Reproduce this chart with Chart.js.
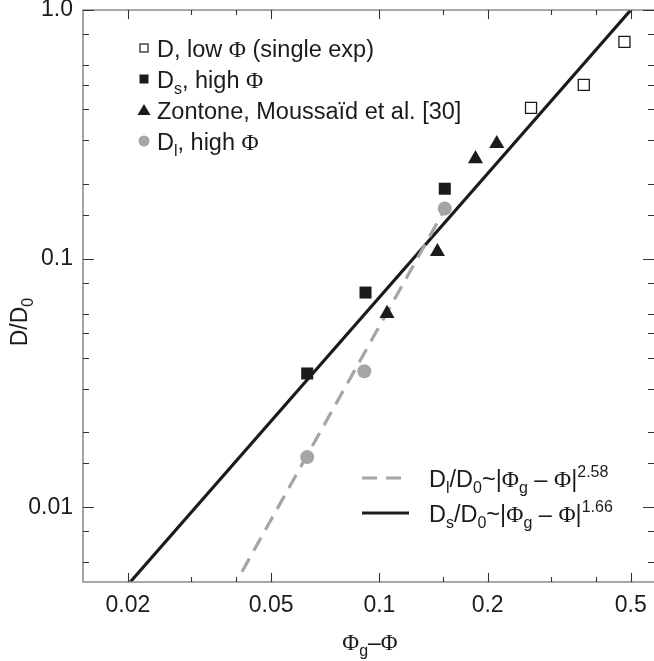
<!DOCTYPE html>
<html>
<head>
<meta charset="utf-8">
<script src="https://cdn.jsdelivr.net/npm/chart.js@4.4.1/dist/chart.umd.min.js"></script>
<style>
  html, body { margin: 0; padding: 0; background: #fff; }
</style>
</head>
<body>
<canvas id="chart" width="654" height="661"></canvas>
<script>
// data (x = Phi_g - Phi, y = D/D0)
const lowPhiX = [0.264, 0.370, 0.480];
const lowPhiY = [0.404, 0.500, 0.744];

const dsX = [0.063, 0.0915, 0.152];
const dsY = [0.0345, 0.073, 0.191];

const zontoneX = [0.105, 0.145, 0.185, 0.212];
const zontoneY = [0.0601, 0.1067, 0.252, 0.290];

const dlX = [0.063, 0.0908, 0.152];
const dlY = [0.0159, 0.0352, 0.159];

// fit lines, endpoints as seen in the plot
const fitSX = [0.0203, 0.50];
const fitSY = [0.005, 1.0];
const fitLX = [0.0415, 0.155];
const fitLY = [0.0055, 0.166];

// axis ticks
const xMajor = [0.02, 0.05, 0.1, 0.2, 0.5];
const xMajorLabels = ["0.02", "0.05", "0.1", "0.2", "0.5"];
const xMinor = [0.03, 0.04, 0.15, 0.3, 0.4];
const yMajor = [0.01, 0.1, 1];
const yMajorLabels = ["0.01", "0.1", "1.0"];
const yMinor = [0.006, 0.008, 0.015, 0.02, 0.03, 0.04, 0.05, 0.06, 0.08,
                0.15, 0.2, 0.3, 0.4, 0.5, 0.6, 0.8];

const BLACK = "#1b1b1b";
const GRAY = "#a5a5a5";
const SANS = "'Liberation Sans', Arial, sans-serif";
const SERIF = "'Liberation Serif', 'Times New Roman', serif";
const PHI = "\u03A6";

function pts(xs, ys) {
    return xs.map((x, i) => ({ x: x, y: ys[i] }));
}

function labelFor(value, majors, labels) {
    for (let i = 0; i < majors.length; i++) {
        if (Math.abs(value - majors[i]) / majors[i] < 1e-6) return labels[i];
    }
    return "";
}

// draw text made of pieces with sub/superscripts
function drawRich(ctx, x, y, segs, size, align) {
    const pieces = segs.map(s => {
        const fs = (s.sub || s.sup) ? Math.round(size * 0.68) : size;
        const font = fs + "px " + (s.serif ? SERIF : SANS);
        ctx.font = font;
        return { t: s.t, font: font, w: ctx.measureText(s.t).width,
                 dy: s.sub ? size * 0.28 : (s.sup ? -size * 0.42 : 0) };
    });
    let total = pieces.reduce((a, p) => a + p.w, 0);
    let cx = align === "center" ? x - total / 2 : x;
    ctx.textBaseline = "alphabetic";
    ctx.textAlign = "left";
    pieces.forEach(p => {
        ctx.font = p.font;
        ctx.fillText(p.t, cx, y + p.dy);
        cx += p.w;
    });
}

const legendTop = [
    { marker: "openSquare", segs: [{ t: "D, low " }, { t: PHI, serif: true }, { t: " (single exp)" }] },
    { marker: "square", segs: [{ t: "D" }, { t: "s", sub: true }, { t: ", high " }, { t: PHI, serif: true }] },
    { marker: "triangle", segs: [{ t: "Zontone, Moussa\u00efd et al. [30]" }] },
    { marker: "circle", segs: [{ t: "D" }, { t: "l", sub: true }, { t: ", high " }, { t: PHI, serif: true }] }
];

const legendFits = [
    { dash: [15, 9], color: GRAY,
      segs: [{ t: "D" }, { t: "l", sub: true }, { t: "/D" }, { t: "0", sub: true }, { t: "~|" },
             { t: PHI, serif: true }, { t: "g", sub: true }, { t: " \u2013 " }, { t: PHI, serif: true },
             { t: "|" }, { t: "2.58", sup: true }] },
    { dash: [], color: BLACK,
      segs: [{ t: "D" }, { t: "s", sub: true }, { t: "/D" }, { t: "0", sub: true }, { t: "~|" },
             { t: PHI, serif: true }, { t: "g", sub: true }, { t: " \u2013 " }, { t: PHI, serif: true },
             { t: "|" }, { t: "1.66", sup: true }] }
];

function drawMarker(ctx, kind, x, y) {
    ctx.save();
    if (kind === "openSquare") {
        ctx.strokeStyle = BLACK; ctx.lineWidth = 1.2; ctx.fillStyle = "#fff";
        ctx.fillRect(x - 4, y - 4, 8, 8);
        ctx.strokeRect(x - 4, y - 4, 8, 8);
    } else if (kind === "square") {
        ctx.fillStyle = BLACK;
        ctx.fillRect(x - 4.5, y - 4.5, 9, 9);
    } else if (kind === "triangle") {
        ctx.fillStyle = BLACK;
        ctx.beginPath();
        ctx.moveTo(x, y - 6); ctx.lineTo(x + 6.5, y + 5); ctx.lineTo(x - 6.5, y + 5);
        ctx.closePath(); ctx.fill();
    } else {
        ctx.fillStyle = GRAY;
        ctx.beginPath(); ctx.arc(x, y, 5.5, 0, Math.PI * 2); ctx.fill();
    }
    ctx.restore();
}

const decorPlugin = {
    id: "decor",
    afterDraw(chart) {
        const ctx = chart.ctx;
        const a = chart.chartArea;
        const xs = chart.scales.x, ys = chart.scales.y;
        ctx.save();

        // frame
        ctx.strokeStyle = "#8c8c8c";
        ctx.lineWidth = 1.6;
        ctx.beginPath();
        ctx.moveTo(a.right, a.top); ctx.lineTo(a.left, a.top);
        ctx.lineTo(a.left, a.bottom); ctx.lineTo(a.right, a.bottom);
        ctx.stroke();

        // inward ticks on all four sides
        ctx.strokeStyle = "#333";
        ctx.lineWidth = 1.1;
        ctx.beginPath();
        const xt = xMajor.map(v => [v, 9]).concat(xMinor.map(v => [v, 5]));
        xt.forEach(([v, len]) => {
            const px = Math.round(xs.getPixelForValue(v)) + 0.5;
            ctx.moveTo(px, a.bottom); ctx.lineTo(px, a.bottom - len);
            ctx.moveTo(px, a.top); ctx.lineTo(px, a.top + len);
        });
        const yt = yMajor.map(v => [v, 11]).concat(yMinor.map(v => [v, 6]));
        yt.forEach(([v, len]) => {
            const py = Math.round(ys.getPixelForValue(v)) + 0.5;
            ctx.moveTo(a.left, py); ctx.lineTo(a.left + len, py);
            ctx.moveTo(a.right, py); ctx.lineTo(a.right - len, py);
        });
        ctx.stroke();

        ctx.fillStyle = BLACK;

        // marker legend, top left
        legendTop.forEach((row, i) => {
            const y = 48 + i * 31;
            drawMarker(ctx, row.marker, 144, y);
            drawRich(ctx, 157, y + 8.5, row.segs, 23.5);
        });

        // fit legend, bottom right
        legendFits.forEach((row, i) => {
            const y = 478 + i * 35;
            ctx.save();
            ctx.strokeStyle = row.color;
            ctx.lineWidth = 3.2;
            ctx.setLineDash(row.dash);
            ctx.beginPath(); ctx.moveTo(362, y); ctx.lineTo(409, y); ctx.stroke();
            ctx.restore();
            ctx.fillStyle = BLACK;
            drawRich(ctx, 429, y + 8.5, row.segs, 23.5);
        });

        // axis titles
        drawRich(ctx, 370, 650, [{ t: PHI, serif: true }, { t: "g", sub: true }, { t: "\u2013" },
                                  { t: PHI, serif: true }], 23, "center");
        ctx.save();
        ctx.translate(27, 322);
        ctx.rotate(-Math.PI / 2);
        drawRich(ctx, 0, 0, [{ t: "D/D" }, { t: "0", sub: true }], 23, "center");
        ctx.restore();

        ctx.restore();
    }
};

new Chart(document.getElementById("chart"), {
    type: "scatter",
    data: {
        datasets: [
            { label: "D, low Phi", data: pts(lowPhiX, lowPhiY), pointStyle: "rect",
              pointRadius: 7.8, backgroundColor: "#fff", borderColor: BLACK, borderWidth: 1.3 },
            { label: "Ds, high Phi", data: pts(dsX, dsY), pointStyle: "rect",
              pointRadius: 8.5, backgroundColor: BLACK, borderColor: BLACK, borderWidth: 0 },
            { label: "Zontone", data: pts(zontoneX, zontoneY), pointStyle: "triangle",
              pointRadius: 8.7, backgroundColor: BLACK, borderColor: BLACK, borderWidth: 0 },
            { label: "Dl, high Phi", data: pts(dlX, dlY), pointStyle: "circle",
              pointRadius: 7, backgroundColor: GRAY, borderColor: GRAY, borderWidth: 0 },
            { label: "fit Dl", data: pts(fitLX, fitLY), showLine: true, pointRadius: 0,
              borderColor: GRAY, borderWidth: 3.2, borderDash: [15, 9] },
            { label: "fit Ds", data: pts(fitSX, fitSY), showLine: true, pointRadius: 0,
              borderColor: BLACK, borderWidth: 3.2 }
        ]
    },
    options: {
        responsive: false,
        animation: false,
        events: [],
        layout: { autoPadding: false, padding: { top: 10, right: 0, bottom: 0, left: 0 } },
        plugins: { legend: { display: false }, tooltip: { enabled: false } },
        scales: {
            x: {
                type: "logarithmic",
                min: 0.015, max: 0.58,
                grid: { display: false, drawTicks: false },
                border: { display: false },
                ticks: {
                    autoSkip: false, maxRotation: 0, padding: 10,
                    color: BLACK, font: { family: SANS, size: 23 },
                    callback: v => labelFor(v, xMajor, xMajorLabels)
                },
                afterBuildTicks: s => {
                    s.ticks = xMajor.concat(xMinor).sort((p, q) => p - q).map(v => ({ value: v }));
                },
                afterFit: s => { s.height = 79; s.paddingLeft = 0; s.paddingRight = 0; }
            },
            y: {
                type: "logarithmic",
                min: 0.005, max: 1.0,
                grid: { display: false, drawTicks: false },
                border: { display: false },
                ticks: {
                    autoSkip: false, padding: 10,
                    color: BLACK, font: { family: SANS, size: 23 },
                    callback: v => labelFor(v, yMajor, yMajorLabels)
                },
                afterBuildTicks: s => {
                    s.ticks = yMajor.concat(yMinor).sort((p, q) => p - q).map(v => ({ value: v }));
                },
                afterFit: s => { s.width = 83; s.paddingTop = 0; s.paddingBottom = 0; }
            }
        }
    },
    plugins: [decorPlugin]
});
</script>
</body>
</html>
